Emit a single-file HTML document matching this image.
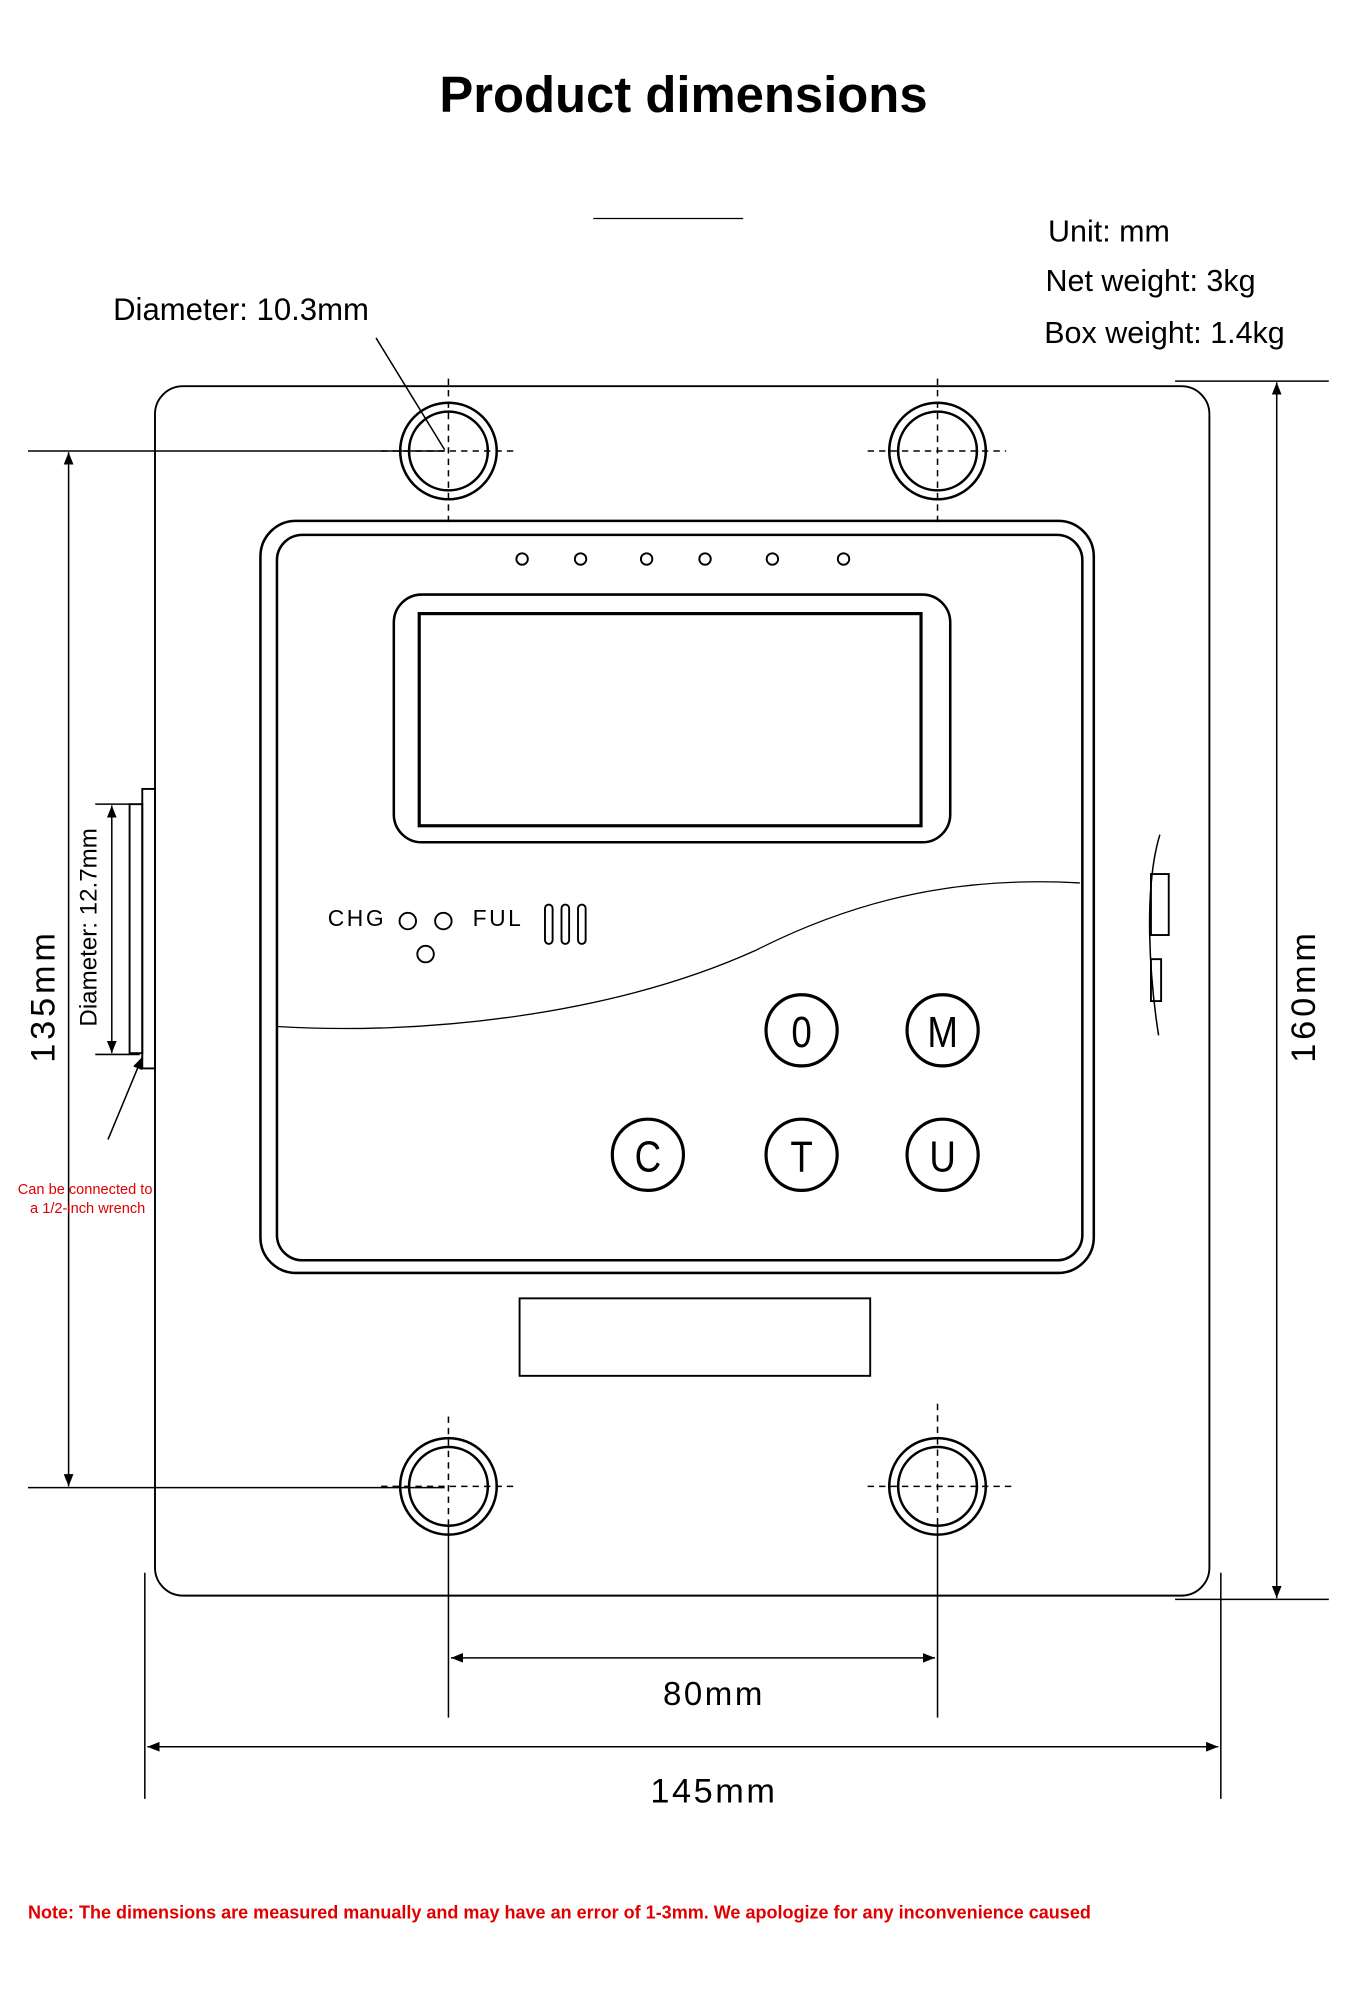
<!DOCTYPE html>
<html><head><meta charset="utf-8"><style>
html,body{margin:0;padding:0;background:#fff;}
svg{display:block;}
text{font-family:"Liberation Sans",sans-serif;}
</style></head><body>
<svg width="1372" height="2000" viewBox="0 0 1080 1574.3" xmlns="http://www.w3.org/2000/svg">
<defs>
<marker id="a" viewBox="0 0 10 10" refX="10" refY="5" markerWidth="8" markerHeight="8" orient="auto-start-reverse"><path d="M0,1 L10,5 L0,9 z" fill="#000"/></marker>
</defs>
<rect width="1080" height="1575" fill="#fff"/>
<text x="538" y="88" text-anchor="middle" font-size="40" font-weight="bold">Product dimensions</text>
<line x1="467" y1="172" x2="585" y2="172" stroke="#000" stroke-width="1"/>
<text x="825" y="190" font-size="24">Unit: mm</text>
<text x="823" y="229" font-size="24">Net weight: 3kg</text>
<text x="822" y="270" font-size="24">Box weight: 1.4kg</text>
<text x="89" y="252" font-size="24.5">Diameter: 10.3mm</text>
<line x1="296" y1="266" x2="350" y2="354" stroke="#000" stroke-width="1.2"/>

<g fill="none" stroke="#000">
<rect x="122" y="304" width="830" height="952" rx="22" stroke-width="1.5"/>
<g stroke-width="2">
<circle cx="353" cy="355" r="38"/><circle cx="353" cy="355" r="31"/>
<circle cx="738" cy="355" r="38"/><circle cx="738" cy="355" r="31"/>
<circle cx="353" cy="1170" r="38"/><circle cx="353" cy="1170" r="31"/>
<circle cx="738" cy="1170" r="38"/><circle cx="738" cy="1170" r="31"/>
</g>
<g stroke-width="1.2" stroke-dasharray="5,4">
<line x1="353" y1="298" x2="353" y2="412"/><line x1="300" y1="355" x2="407" y2="355"/>
<line x1="738" y1="298" x2="738" y2="412"/><line x1="683" y1="355" x2="792" y2="355"/>
<line x1="353" y1="1115" x2="353" y2="1200"/><line x1="300" y1="1170" x2="405" y2="1170"/>
<line x1="738" y1="1105" x2="738" y2="1200"/><line x1="683" y1="1170" x2="797" y2="1170"/>
</g>
<rect x="205" y="410" width="656" height="592" rx="28" stroke-width="2"/>
<rect x="218" y="421" width="634" height="571" rx="20" stroke-width="2"/>
<rect x="310" y="468" width="438" height="195" rx="22" stroke-width="2"/>
<rect x="330" y="483" width="395" height="167" stroke-width="2.5"/>
<g stroke-width="1.5">
<circle cx="411" cy="440" r="4.5"/><circle cx="457" cy="440" r="4.5"/><circle cx="509" cy="440" r="4.5"/>
<circle cx="555" cy="440" r="4.5"/><circle cx="608" cy="440" r="4.5"/><circle cx="664" cy="440" r="4.5"/>
<circle cx="321" cy="725" r="6.5"/><circle cx="349" cy="725" r="6.5"/><circle cx="335" cy="751" r="6.5"/>
<rect x="429" y="712" width="6" height="31" rx="3"/><rect x="442" y="712" width="6" height="31" rx="3"/><rect x="455" y="712" width="6" height="31" rx="3"/>
</g>
<path d="M218,808 C330,815 480,800 595,748 C680,705 760,690 850,695" stroke-width="1"/>
<g stroke-width="2.5">
<circle cx="631" cy="811" r="28"/><circle cx="742" cy="811" r="28"/>
<circle cx="510" cy="909" r="28"/><circle cx="631" cy="909" r="28"/><circle cx="742" cy="909" r="28"/>
</g>
<rect x="409" y="1022" width="276" height="61" stroke-width="1.5"/>
<rect x="112" y="621" width="10" height="220" stroke-width="1.5"/>
<rect x="102" y="633" width="10" height="196" stroke-width="1.5"/>
<path d="M913,657 C900,700 905,770 912,815" stroke-width="1.2"/>
<rect x="906" y="688" width="14" height="48" stroke-width="1.5"/>
<rect x="906" y="755" width="8" height="33" stroke-width="1.5"/>
</g>
<g font-size="34" text-anchor="middle" fill="#000">
<text x="631" y="824" transform="translate(631,824) scale(0.85,1) translate(-631,-824)">0</text><text x="742" y="824" transform="translate(742,824) scale(0.85,1) translate(-742,-824)">M</text>
<text x="510" y="922" transform="translate(510,922) scale(0.85,1) translate(-510,-922)">C</text><text x="631" y="922" transform="translate(631,922) scale(0.85,1) translate(-631,-922)">T</text><text x="742" y="922" transform="translate(742,922) scale(0.85,1) translate(-742,-922)">U</text>
</g>
<text x="258" y="729" font-size="18" letter-spacing="2">CHG</text>
<text x="372" y="729" font-size="18" letter-spacing="2">FUL</text>

<g stroke="#000" stroke-width="1.2">
<line x1="22" y1="355" x2="350" y2="355"/>
<line x1="22" y1="1171" x2="350" y2="1171"/>
<line x1="54" y1="356" x2="54" y2="1170" marker-start="url(#a)" marker-end="url(#a)"/>
<line x1="75" y1="633" x2="102" y2="633"/>
<line x1="75" y1="830" x2="110" y2="830"/>
<line x1="88" y1="634" x2="88" y2="829" marker-start="url(#a)" marker-end="url(#a)"/>
<line x1="85" y1="897" x2="112" y2="832" marker-end="url(#a)"/>
<line x1="925" y1="300" x2="1046" y2="300"/>
<line x1="925" y1="1259" x2="1046" y2="1259"/>
<line x1="1005" y1="301" x2="1005" y2="1258" marker-start="url(#a)" marker-end="url(#a)"/>
<line x1="114" y1="1238" x2="114" y2="1416"/>
<line x1="961" y1="1238" x2="961" y2="1416"/>
<line x1="353" y1="1200" x2="353" y2="1352"/>
<line x1="738" y1="1200" x2="738" y2="1352"/>
<line x1="355" y1="1305" x2="736" y2="1305" marker-start="url(#a)" marker-end="url(#a)"/>
<line x1="116" y1="1375" x2="959" y2="1375" marker-start="url(#a)" marker-end="url(#a)"/>
</g>
<text x="562" y="1342" font-size="26" text-anchor="middle" letter-spacing="2">80mm</text>
<text x="562" y="1419" font-size="27" text-anchor="middle" letter-spacing="2">145mm</text>
<text transform="translate(43,784) rotate(-90)" font-size="27" text-anchor="middle" letter-spacing="3">135mm</text>
<text transform="translate(76,730) rotate(-90)" font-size="19" text-anchor="middle">Diameter: 12.7mm</text>
<text transform="translate(1035,784) rotate(-90)" font-size="27" text-anchor="middle" letter-spacing="3">160mm</text>
<text x="67" y="940" font-size="11.5" fill="#e00000" text-anchor="middle">Can be connected to</text>
<text x="69" y="955" font-size="11.5" fill="#e00000" text-anchor="middle">a 1/2-inch wrench</text>
<text x="22" y="1510" font-size="14.2" font-weight="bold" fill="#e00000">Note: The dimensions are measured manually and may have an error of 1-3mm. We apologize for any inconvenience caused</text>
</svg>
</body></html>
